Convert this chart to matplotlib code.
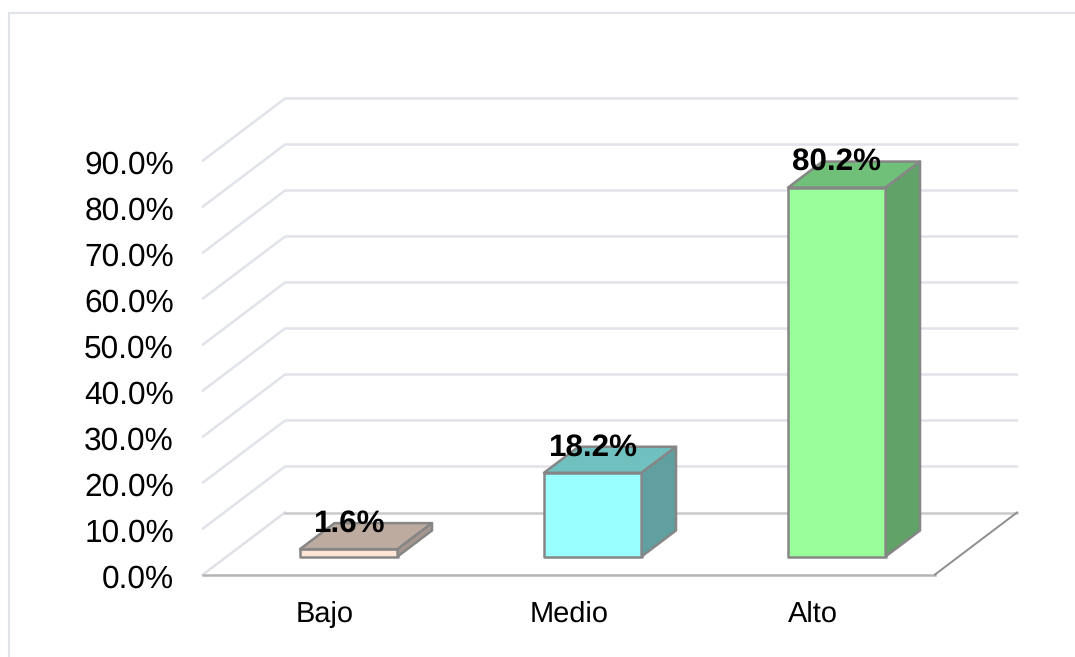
import matplotlib
matplotlib.use("Agg")
import matplotlib.pyplot as plt
from matplotlib.lines import Line2D
from matplotlib.patches import Polygon
from matplotlib.transforms import ScaledTranslation

plt.rcParams['font.family'] = ['Liberation Sans', 'DejaVu Sans']
plt.rcParams['text.hinting'] = 'none'

categories = ['Bajo', 'Medio', 'Alto']
values = [1.6, 18.2, 80.2]
value_labels = ['1.6%', '18.2%', '80.2%']
y_ticks = [0, 10, 20, 30, 40, 50, 60, 70, 80, 90]
y_tick_labels = ['0.0%', '10.0%', '20.0%', '30.0%', '40.0%', '50.0%', '60.0%', '70.0%', '80.0%', '90.0%']
front_colors = ['#FFE5D5', '#99FFFF', '#99FF99']
top_colors = ['#BDAB9F', '#70C0C0', '#70C07A']
side_colors = ['#A5978D', '#60A0A0', '#60A267']

W, H = 1075, 657
L, R, B, T = 203, 935, 574.5, 160.5

fig = plt.figure(figsize=(W / 100, H / 100), dpi=100, facecolor='white')
ax = fig.add_axes([L / W, 1 - B / H, (R - L) / W, (B - T) / H])
ax.set_xlim(0, 3)
ax.set_ylim(0, 90)
ax.patch.set_alpha(0)
for s in ax.spines.values():
    s.set_visible(False)

DX = 82 / ((R - L) / 3)
DY = 62 / ((B - T) / 90)
D0, D1 = 0.29, 0.71
BAR_W = 0.4


def pr(x, y, d):
    return (x + d * DX, y + d * DY)


# outer chart frame
for xs, ys in (([9, 9], [H, 13]), ([9, W], [13, 13])):
    fig.add_artist(Line2D([x / W for x in xs], [1 - y / H for y in ys],
                          color='#E0E4EA', lw=1.5))

# walls
grid = '#E1E3EA'
for v in y_ticks[1:]:
    pts = [pr(0, v, 0), pr(0, v, 1), pr(3, v, 1)]
    ax.plot(*zip(*pts), color=grid, lw=1.8, clip_on=False, zorder=1, solid_joinstyle='miter')

# floor
ax.plot(*zip(*[pr(0, 0, 0), pr(0, 0, 1)]), color='#DFE1E7', lw=1.8, clip_on=False, zorder=1)
ax.plot(*zip(*[pr(0, 0, 1), pr(3, 0, 1)]), color='#C8CACD', lw=1.8, clip_on=False, zorder=1)
ax.plot(*zip(*[pr(0, 0, 0), pr(3, 0, 0)]), color='#B4B4B4', lw=1.8, clip_on=False, zorder=2)
ax.plot(*zip(*[pr(3, 0, 0), pr(3, 0, 1)]), color='#8E8E8E', lw=1.4, clip_on=False, zorder=2)

# bars
edge = '#868686'
for i, v in enumerate(values):
    x0 = i + 0.5 - BAR_W / 2
    x1 = i + 0.5 + BAR_W / 2
    faces = [
        ([pr(x0, 0, D0), pr(x1, 0, D0), pr(x1, v, D0), pr(x0, v, D0)], front_colors[i]),
        ([pr(x0, v, D0), pr(x1, v, D0), pr(x1, v, D1), pr(x0, v, D1)], top_colors[i]),
        ([pr(x1, 0, D0), pr(x1, 0, D1), pr(x1, v, D1), pr(x1, v, D0)], side_colors[i]),
    ]
    for pts, c in faces:
        ax.add_patch(Polygon(pts, closed=True, facecolor=c, edgecolor=edge, lw=1.8,
                             joinstyle='round', clip_on=False, zorder=3))
    cx, cy = pr(i + 0.5, v, D0)
    ax.annotate(value_labels[i], (cx, cy), xytext=(0, 25.5 * 0.72), textcoords='offset points',
                ha='center', va='center', fontsize=22.6, fontweight='bold', color='black',
                zorder=5, annotation_clip=False)

ax.set_yticks(y_ticks)
ax.set_yticklabels(y_tick_labels, fontsize=22.8, color='#000000')
ax.set_xticks([i + 0.5 for i in range(len(categories))])
ax.set_xticklabels(categories, fontsize=20.9, color='#000000')
ax.tick_params(axis='y', length=0, pad=21)
ax.tick_params(axis='x', length=0, pad=19)
down = ScaledTranslation(0, -1.2 / 72 * 0.72 * 72 / 72, fig.dpi_scale_trans)
for lab in ax.get_yticklabels():
    lab.set_transform(lab.get_transform() + down)

fig.savefig('out.png', dpi=100, facecolor='white')
